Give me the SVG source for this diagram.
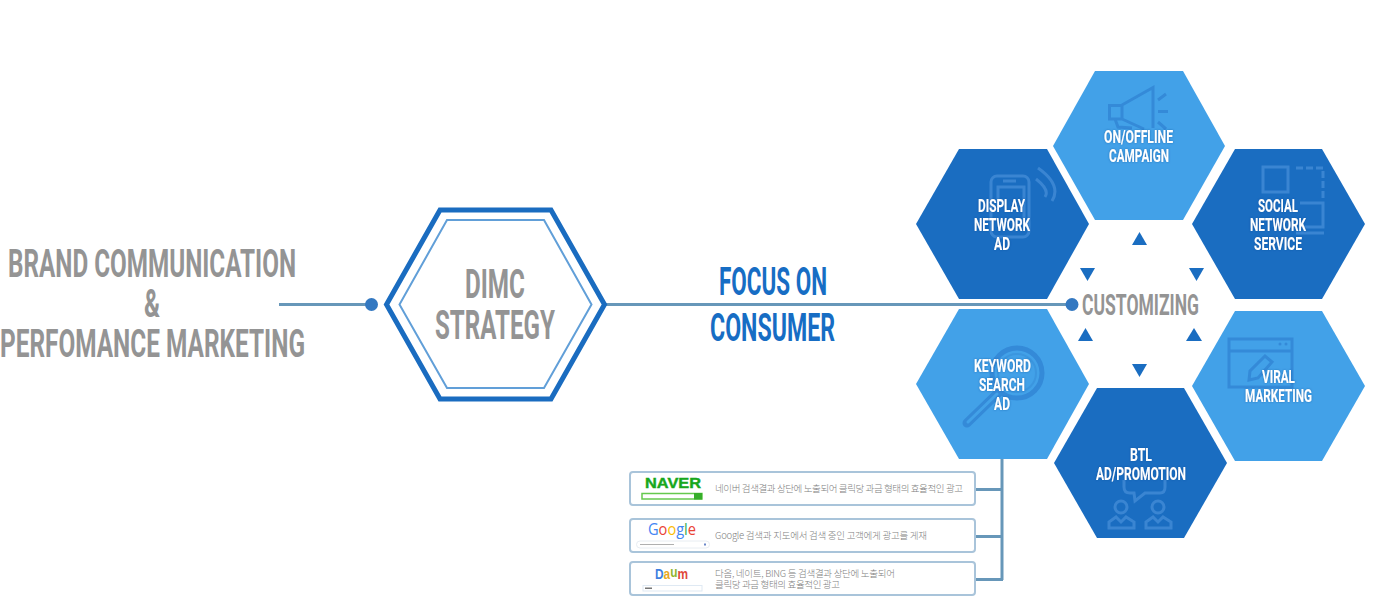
<svg xmlns="http://www.w3.org/2000/svg" width="1384" height="609" viewBox="0 0 1384 609">
<style>
text{font-family:"Roboto","Liberation Sans",sans-serif;text-anchor:start}
.g{fill:#949494;font-weight:700}
.b{fill:#176dc4;font-weight:700}
.w{fill:#fff;font-weight:700;font-size:18.5px;filter:url(#glow)}
.k{font-family:"Noto Sans CJK KR","Noto Sans",sans-serif;font-size:9.5px;fill:#808080;font-weight:300}
.dark{fill:#1a6dc1}
.light{fill:#42a1e8}
.conn{stroke:#6797b9;stroke-width:3;fill:none}
.dot{fill:#3378c1}
.tri{fill:#1a6dc1}
.box{fill:#fff;stroke:#a9c4da;stroke-width:2}
.il{fill:none;stroke:#348ad8;stroke-width:3}
.id{fill:none;stroke:#3a85d2;stroke-width:3}
</style>
<defs>
<filter id="glow" x="-20%" y="-30%" width="140%" height="160%"><feDropShadow dx="0" dy="0" stdDeviation="1" flood-color="#0b4a90" flood-opacity="0.55"/></filter>
</defs>
<rect width="1384" height="609" fill="#fff"/>

<g id="connectors">
<path class="conn" d="M279 304.500H372"/>
<path class="conn" d="M606 304.500H1072"/>
<path class="conn" d="M1002 459V580"/>
<path class="conn" d="M975 489.500H1002M975 536.500H1002M975 579.500H1003"/>
<circle class="dot" cx="371.500" cy="304.500" r="6.500"/>
<circle class="dot" cx="1072" cy="304.500" r="6.500"/>
</g>

<g id="source">
<text class="g" font-size="39" x="8" y="277" textLength="288" lengthAdjust="spacingAndGlyphs">BRAND COMMUNICATION</text>
<text class="g" font-size="39" x="144" y="317" textLength="16" lengthAdjust="spacingAndGlyphs">&amp;</text>
<text class="g" font-size="39" x="0" y="357" textLength="305" lengthAdjust="spacingAndGlyphs">PERFOMANCE MARKETING</text>
</g>

<g id="dimc">
<polygon points="440,210 551,210 604.500,304.500 551,399 440,399 386.500,304.500" fill="#fff" stroke="#1a6cc0" stroke-width="5"/>
<polygon points="447,220 544,220 591.500,304.500 544,388 447,388 399.500,304.500" fill="none" stroke="#619fd8" stroke-width="2"/>
<text class="g" font-size="40" x="465" y="298" textLength="60" lengthAdjust="spacingAndGlyphs">DIMC</text>
<text class="g" font-size="40" x="435" y="339" textLength="120" lengthAdjust="spacingAndGlyphs">STRATEGY</text>
</g>

<g id="focus">
<text class="b" font-size="38" x="719" y="295" textLength="108" lengthAdjust="spacingAndGlyphs">FOCUS ON</text>
<text class="b" font-size="38" x="710" y="341" textLength="125" lengthAdjust="spacingAndGlyphs">CONSUMER</text>
</g>

<g id="customizing">
<text class="g" font-size="30" x="1082" y="315" textLength="117" lengthAdjust="spacingAndGlyphs">CUSTOMIZING</text>
<polygon class="tri" points="1139.500,232 1147,245 1132,245"/>
<polygon class="tri" points="1080,268 1095,268 1087.500,281"/>
<polygon class="tri" points="1189,268 1204,268 1196.500,281"/>
<polygon class="tri" points="1085.500,328 1093,341 1078,341"/>
<polygon class="tri" points="1194,328 1202,341 1186,341"/>
<polygon class="tri" points="1132,364 1147,364 1139.500,377"/>
</g>

<g id="on-offline">
<polygon class="light" points="1095,71 1183,71 1225,146 1183,220 1095,220 1053,146"/>
<path class="il" d="M1109.500 105.500H1122V119H1109.500ZM1122 105L1153 87.500V128M1122 119L1144 129M1115 119L1118 127L1132 128M1158 100L1166 94M1158 111.500H1168M1158 122L1166 129"/>
<text class="w" x="1104" y="143" textLength="69" lengthAdjust="spacingAndGlyphs">ON/OFFLINE</text>
<text class="w" x="1109" y="162" textLength="60" lengthAdjust="spacingAndGlyphs">CAMPAIGN</text>
</g>

<g id="display">
<polygon class="dark" points="959,149 1047,149 1089,224 1047,299 959,299 916,224"/>
<rect class="id" x="991" y="176" width="38" height="61" rx="6"/>
<path class="id" d="M998 206V187H1024V224M1003 181H1016M1036 179Q1050 190 1045 197M1038 168Q1062 185 1052 201"/>
<text class="w" x="978" y="212" textLength="47" lengthAdjust="spacingAndGlyphs">DISPLAY</text>
<text class="w" x="974" y="231" textLength="56" lengthAdjust="spacingAndGlyphs">NETWORK</text>
<text class="w" x="994" y="250" textLength="16" lengthAdjust="spacingAndGlyphs">AD</text>
</g>

<g id="social">
<polygon class="dark" points="1235,149 1322,149 1365,224 1322,299 1235,299 1192,224"/>
<rect class="id" x="1263" y="167" width="25" height="25"/>
<path class="id" d="M1296 168H1323V200" stroke-dasharray="7 3"/>
<path class="id" d="M1300 203H1323V227H1300M1296 233H1324"/>
<text class="w" x="1258" y="212" textLength="40" lengthAdjust="spacingAndGlyphs">SOCIAL</text>
<text class="w" x="1250" y="231" textLength="56" lengthAdjust="spacingAndGlyphs">NETWORK</text>
<text class="w" x="1254" y="250" textLength="48" lengthAdjust="spacingAndGlyphs">SERVICE</text>
</g>

<g id="keyword">
<polygon class="light" points="959,309 1047,309 1089,384 1047,459 959,459 916,384"/>
<circle cx="1017" cy="373" r="25" fill="none" stroke="#348ad8" stroke-width="5"/>
<circle cx="1017" cy="373" r="19" fill="none" stroke="#3b96df" stroke-width="2"/>
<path d="M998 393L967 423" fill="none" stroke="#348ad8" stroke-width="9" stroke-linecap="round"/>
<path d="M997 394L968 422" fill="none" stroke="#42a1e8" stroke-width="3" stroke-linecap="round"/>
<text class="w" x="974" y="372" textLength="57" lengthAdjust="spacingAndGlyphs">KEYWORD</text>
<text class="w" x="979" y="391" textLength="46" lengthAdjust="spacingAndGlyphs">SEARCH</text>
<text class="w" x="994" y="410" textLength="16" lengthAdjust="spacingAndGlyphs">AD</text>
</g>

<g id="viral">
<polygon class="light" points="1235,311 1322,311 1365,386 1322,461 1235,461 1192,386"/>
<rect class="il" x="1229" y="339" width="63" height="48"/>
<path class="il" d="M1229 351H1292"/>
<circle cx="1280" cy="344" r="1.500" fill="#348ad8"/><circle cx="1286" cy="344" r="1.500" fill="#348ad8"/>
<path class="il" d="M1249 380L1250 371L1265 356L1272 362L1258 378Z"/>
<text class="w" x="1262" y="383" textLength="33" lengthAdjust="spacingAndGlyphs">VIRAL</text>
<text class="w" x="1245" y="402" textLength="67" lengthAdjust="spacingAndGlyphs">MARKETING</text>
</g>

<g id="btl">
<polygon class="dark" points="1097,388 1184,388 1227,463 1184,538 1097,538 1054,463"/>
<path class="id" d="M1124 480V487Q1124 493 1130 493H1134L1135 501L1145 493H1160Q1165 493 1165 487V480"/>
<circle class="id" cx="1121" cy="507" r="6"/><circle class="id" cx="1158" cy="507" r="6"/>
<path class="id" d="M1109 528V522L1116 517L1121 522L1126 517L1134 522V528ZM1146 528V522L1153 517L1158 522L1163 517L1171 522V528Z"/>
<text class="w" x="1130" y="461" textLength="22" lengthAdjust="spacingAndGlyphs">BTL</text>
<text class="w" x="1096" y="480" textLength="90" lengthAdjust="spacingAndGlyphs">AD/PROMOTION</text>
</g>

<g id="naver">
<rect class="box" x="630" y="472" width="345" height="33" rx="3"/>
<text x="645" y="488" font-size="14" fill="#17a71c" textLength="56" lengthAdjust="spacingAndGlyphs" style="font-family:'Liberation Sans',sans-serif;font-weight:700;stroke:#17a71c;stroke-width:.4">NAVER</text>
<rect x="642" y="493.500" width="60" height="5.500" fill="#fff" stroke="#65c94e" stroke-width="1.500"/>
<rect x="694" y="493" width="8" height="6.500" fill="#36ae2a"/>
<text class="k" x="715" y="492" textLength="248">네이버 검색결과 상단에 노출되어 클릭당 과금 형태의 효율적인 광고</text>
</g>

<g id="google">
<rect class="box" x="630" y="519" width="345" height="33" rx="3"/>
<text x="648" y="535" font-size="16" textLength="48" lengthAdjust="spacingAndGlyphs" style="font-family:'Open Sans','Liberation Sans',sans-serif;font-weight:500"><tspan fill="#4285f4">G</tspan><tspan fill="#ea4335">o</tspan><tspan fill="#fbbc05">o</tspan><tspan fill="#4285f4">g</tspan><tspan fill="#34a853">l</tspan><tspan fill="#ea4335">e</tspan></text>
<rect x="636.500" y="541" width="73" height="7" rx="3.500" fill="#fff" stroke="#e8edf2"/>
<rect x="640" y="544" width="34" height="1" fill="#b0b0b0"/>
<rect x="704" y="543.500" width="2" height="2" fill="#6b87c9"/>
<text class="k" x="715" y="539" textLength="212">Google 검색과 지도에서 검색 중인 고객에게 광고를 게재</text>
</g>

<g id="daum">
<rect class="box" x="630" y="562" width="345" height="33" rx="3"/>
<text x="655" y="579" font-size="15" textLength="33" lengthAdjust="spacingAndGlyphs" style="font-family:'Liberation Sans',sans-serif;font-weight:700"><tspan fill="#3f7fe0">D</tspan><tspan fill="#e9a820">a</tspan><tspan fill="#8fb62f" dy="-2">u</tspan><tspan fill="#e0483a" dy="2">m</tspan></text>
<rect x="643" y="585.500" width="59" height="5.500" fill="#fff" stroke="#dfe9f3"/>
<rect x="645" y="587.500" width="7" height="1.500" fill="#777"/>
<text class="k" x="715" y="577" textLength="180">다음, 네이트, BING 등 검색결과 상단에 노출되어</text>
<text class="k" x="715" y="587.500" textLength="125">클릭당 과금 형태의 효율적인 광고</text>
</g>
</svg>
